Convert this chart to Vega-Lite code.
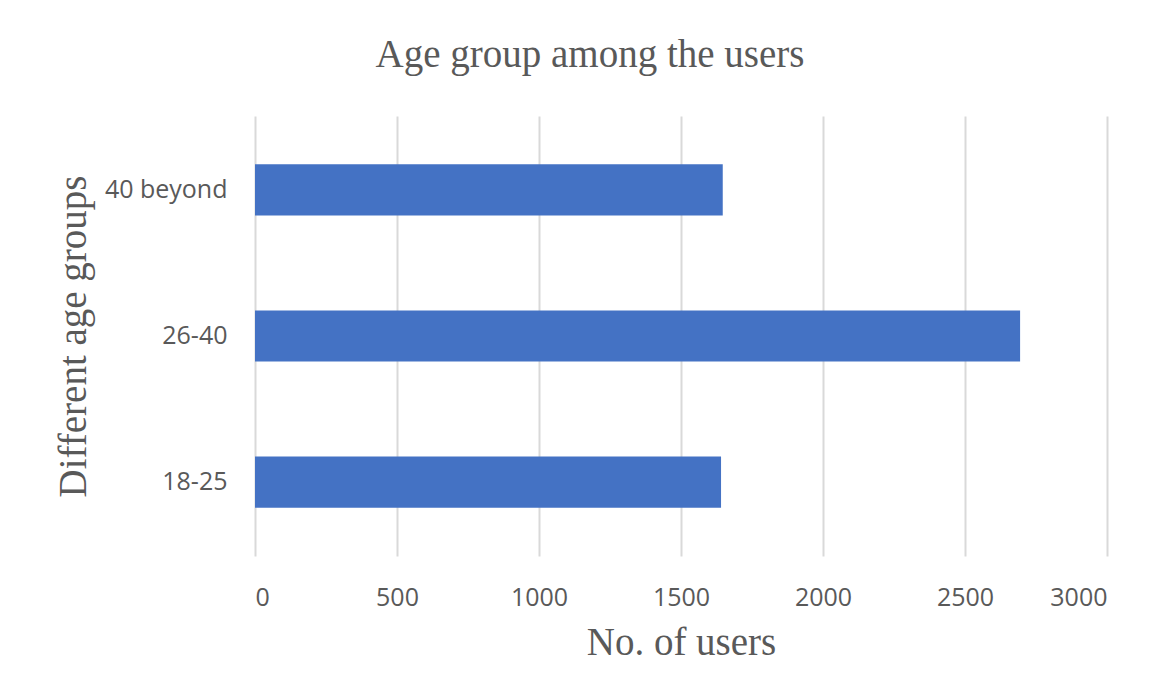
{
  "$schema": "https://vega.github.io/schema/vega-lite/v6.json",
  "autosize": {"type": "none"},
  "width": 852,
  "height": 440,
  "padding": {"left": 255, "top": 116, "right": 65, "bottom": 142},
  "background": "white",
  "title": {
    "text": "Age group among the users",
    "font": "Liberation Serif",
    "fontSize": 39,
    "fontWeight": "normal",
    "color": "#595959",
    "anchor": "middle",
    "frame": "group",
    "baseline": "alphabetic",
    "offset": 10,
    "dx": -91
  },
  "data": {
    "values": [
      {"age": "40 beyond", "users": 1647},
      {"age": "26-40", "users": 2694},
      {"age": "18-25", "users": 1641}
    ]
  },
  "mark": {"type": "bar", "color": "#4472C4"},
  "encoding": {
    "y": {
      "field": "age",
      "type": "nominal",
      "sort": ["40 beyond", "26-40", "18-25"],
      "scale": {"paddingInner": 0.65, "paddingOuter": 0.33},
      "axis": {
        "title": "Different age groups",
        "titleFont": "Liberation Serif",
        "titleFontSize": 39,
        "titleFontWeight": "normal",
        "titleColor": "#595959",
        "titlePadding": 11,
        "labelFont": "Open Sans",
        "labelFontSize": 25,
        "labelColor": "#595959",
        "labelPadding": 28,
        "ticks": false,
        "domain": false,
        "grid": false
      }
    },
    "x": {
      "field": "users",
      "type": "quantitative",
      "scale": {"domain": [0, 3000], "nice": false},
      "axis": {
        "values": [0, 500, 1000, 1500, 2000, 2500, 3000],
        "format": "d",
        "title": "No. of users",
        "titleFont": "Liberation Serif",
        "titleFontSize": 39,
        "titleFontWeight": "normal",
        "titleColor": "#595959",
        "titlePadding": 13,
        "labelFont": "Open Sans",
        "labelFontSize": 25,
        "labelColor": "#595959",
        "labelPadding": 29,
        "labelBaseline": "top",
        "ticks": false,
        "domain": false,
        "grid": true,
        "gridColor": "#d9d9d9",
        "gridWidth": 2
      }
    }
  },
  "config": {"view": {"stroke": null}}
}
